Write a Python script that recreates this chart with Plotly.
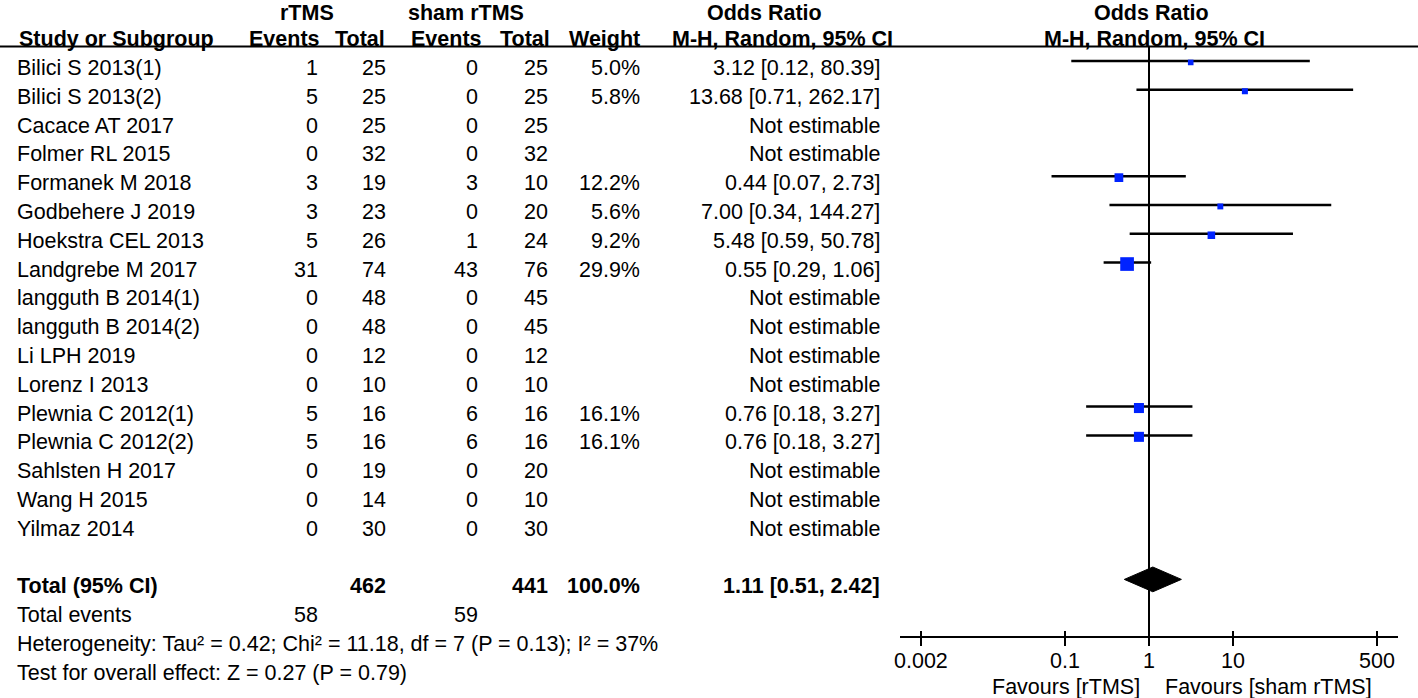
import math
import plotly.graph_objects as go

# study rows
studies = ["Bilici S 2013(1)", "Bilici S 2013(2)", "Cacace AT 2017", "Folmer RL 2015",
           "Formanek M 2018", "Godbehere J 2019", "Hoekstra CEL 2013", "Landgrebe M 2017",
           "langguth B 2014(1)", "langguth B 2014(2)", "Li LPH 2019", "Lorenz I 2013",
           "Plewnia C 2012(1)", "Plewnia C 2012(2)", "Sahlsten H 2017", "Wang H 2015",
           "Yilmaz 2014"]
events_rtms = [1, 5, 0, 0, 3, 3, 5, 31, 0, 0, 0, 0, 5, 5, 0, 0, 0]
total_rtms = [25, 25, 25, 32, 19, 23, 26, 74, 48, 48, 12, 10, 16, 16, 19, 14, 30]
events_sham = [0, 0, 0, 0, 3, 0, 1, 43, 0, 0, 0, 0, 6, 6, 0, 0, 0]
total_sham = [25, 25, 25, 32, 10, 20, 24, 76, 45, 45, 12, 10, 16, 16, 20, 10, 30]
weights = [5.0, 5.8, None, None, 12.2, 5.6, 9.2, 29.9, None, None, None, None,
           16.1, 16.1, None, None, None]
odds = [3.12, 13.68, None, None, 0.44, 7.00, 5.48, 0.55, None, None, None, None,
        0.76, 0.76, None, None, None]
ci_low = [0.12, 0.71, None, None, 0.07, 0.34, 0.59, 0.29, None, None, None, None,
          0.18, 0.18, None, None, None]
ci_high = [80.39, 262.17, None, None, 2.73, 144.27, 50.78, 1.06, None, None, None, None,
           3.27, 3.27, None, None, None]

# pooled
pooled_or = 1.11
pooled_low = 0.51
pooled_high = 2.42
sum_total_rtms = 462
sum_total_sham = 441
sum_weight = 100.0
sum_events_rtms = 58
sum_events_sham = 59
heterogeneity = "Heterogeneity: Tau² = 0.42; Chi² = 11.18, df = 7 (P = 0.13); I² = 37%"
overall = "Test for overall effect: Z = 0.27 (P = 0.79)"

tick_vals = [0.002, 0.1, 1, 10, 500]
tick_text = ["0.002", "0.1", "1", "10", "500"]

W, H = 1418, 698
FONT = "Liberation Sans, Arial, sans-serif"
FS = 21.5
TXT_OFF = 0.24  # text sits a little lower than the plotted marks
TOTAL_ROW = len(studies) + 1
AXIS_ROW = 20

fig = go.Figure()

# confidence intervals
cx, cy = [], []
for i, (lo, hi) in enumerate(zip(ci_low, ci_high)):
    if lo is None:
        continue
    cx += [lo, hi, None]
    cy += [i, i, None]
fig.add_trace(go.Scatter(x=cx, y=cy, mode="lines", line=dict(color="black", width=2.5),
                         hoverinfo="skip"))

# line of no effect
fig.add_trace(go.Scatter(x=[1, 1], y=[-0.5, AXIS_ROW], mode="lines",
                         line=dict(color="black", width=2), hoverinfo="skip"))

# study squares
mx, my, ms = [], [], []
for i, (o, w) in enumerate(zip(odds, weights)):
    if o is None:
        continue
    mx.append(o)
    my.append(i + 0.05)
    ms.append(2.5 * w ** 0.5)
fig.add_trace(go.Scatter(x=mx, y=my, mode="markers", hoverinfo="skip",
                         marker=dict(symbol="square", size=ms, color="rgb(0,35,255)",
                                     opacity=1, line=dict(width=0))))

# pooled diamond
dh = 0.43
fig.add_trace(go.Scatter(x=[pooled_low, pooled_or, pooled_high, pooled_or, pooled_low],
                         y=[TOTAL_ROW, TOTAL_ROW - dh, TOTAL_ROW, TOTAL_ROW + dh, TOTAL_ROW],
                         mode="lines", fill="toself", fillcolor="black",
                         line=dict(color="black", width=1), hoverinfo="skip"))

# invisible trace for the upper half of the ticks
fig.add_trace(go.Scatter(x=[1], y=[AXIS_ROW], xaxis="x2", mode="markers",
                         marker=dict(opacity=0), hoverinfo="skip"))

ann = []


def cell(text, px, row, anchor="right", bold=False):
    if bold:
        text = "<b>" + text + "</b>"
    ann.append(dict(text=text, x=px / W, xref="paper", y=row + TXT_OFF, yref="y",
                    xanchor=anchor, yanchor="middle", showarrow=False,
                    font=dict(family=FONT, size=FS, color="black")))


# headers (top row nudged down a touch so it is not clipped)
top = -2 + 0.1
cell("rTMS", 307, top, "center", True)
cell("sham rTMS", 466, top, "center", True)
cell("Odds Ratio", 764, top, "center", True)
cell("Odds Ratio", 1151, top, "center", True)
cell("Study or Subgroup", 17, -1, "left", True)
cell("Events", 322, -1, "right", True)
cell("Total", 387, -1, "right", True)
cell("Events", 484, -1, "right", True)
cell("Total", 552, -1, "right", True)
cell("Weight", 642, -1, "right", True)
cell("M-H, Random, 95% CI", 782, -1, "center", True)
cell("M-H, Random, 95% CI", 1154, -1, "center", True)

for i, name in enumerate(studies):
    cell(name, 15, i, "left")
    cell(str(events_rtms[i]), 320, i)
    cell(str(total_rtms[i]), 388, i)
    cell(str(events_sham[i]), 480, i)
    cell(str(total_sham[i]), 550, i)
    if weights[i] is not None:
        cell(f"{weights[i]:.1f}%", 642, i)
        cell(f"{odds[i]:.2f} [{ci_low[i]:.2f}, {ci_high[i]:.2f}]", 882, i)
    else:
        cell("Not estimable", 882, i)

cell("Total (95% CI)", 15, TOTAL_ROW, "left", True)
cell(str(sum_total_rtms), 388, TOTAL_ROW, "right", True)
cell(str(sum_total_sham), 550, TOTAL_ROW, "right", True)
cell(f"{sum_weight:.1f}%", 642, TOTAL_ROW, "right", True)
cell(f"{pooled_or:.2f} [{pooled_low:.2f}, {pooled_high:.2f}]", 882, TOTAL_ROW, "right", True)
cell("Total events", 15, TOTAL_ROW + 1, "left")
cell(str(sum_events_rtms), 320, TOTAL_ROW + 1)
cell(str(sum_events_sham), 480, TOTAL_ROW + 1)
cell(heterogeneity, 15, TOTAL_ROW + 2, "left")
cell(overall, 15, TOTAL_ROW + 3, "left")

cell("Favours [rTMS]", 1142, 21.5, "right")
cell("Favours [sham rTMS]", 1163, 21.5, "left")

# tick labels on the log axis (annotation x is log10 of the value)
for v, t in zip(tick_vals, tick_text):
    ann.append(dict(text=t, x=math.log10(v), xref="x", y=20.82, yref="y",
                    xanchor="center", yanchor="middle", showarrow=False,
                    font=dict(family=FONT, size=FS, color="black")))

fig.update_layout(
    width=W, height=H,
    margin=dict(l=0, r=0, t=0, b=0),
    paper_bgcolor="white", plot_bgcolor="white",
    showlegend=False,
    annotations=ann,
    shapes=[dict(type="line", xref="paper", x0=0, x1=1, yref="y", y0=-0.5, y1=-0.5,
                 line=dict(color="black", width=2))],
    xaxis=dict(type="log", range=[-2.95, 2.95], domain=[900 / W, 1398 / W],
               anchor="free", position=1 - 637 / H,
               showline=True, linecolor="black", linewidth=2,
               ticks="outside", ticklen=8, tickwidth=2, tickcolor="black",
               tickvals=tick_vals, showticklabels=False,
               showgrid=False, zeroline=False),
    xaxis2=dict(type="log", range=[-2.95, 2.95], domain=[900 / W, 1398 / W],
                overlaying="x", anchor="free", position=1 - 637 / H,
                showline=False, ticks="inside", ticklen=6, tickwidth=2, tickcolor="black",
                tickvals=tick_vals, showticklabels=False, showgrid=False, zeroline=False),
    yaxis=dict(range=[22.118, -2.118], domain=[0, 1], visible=False),
)

# page body has an 8px default margin; drop it so the chart sits at 0,0
fig.write_html("out.html", config={"displayModeBar": False},
               post_script="document.body.style.margin='0';")
